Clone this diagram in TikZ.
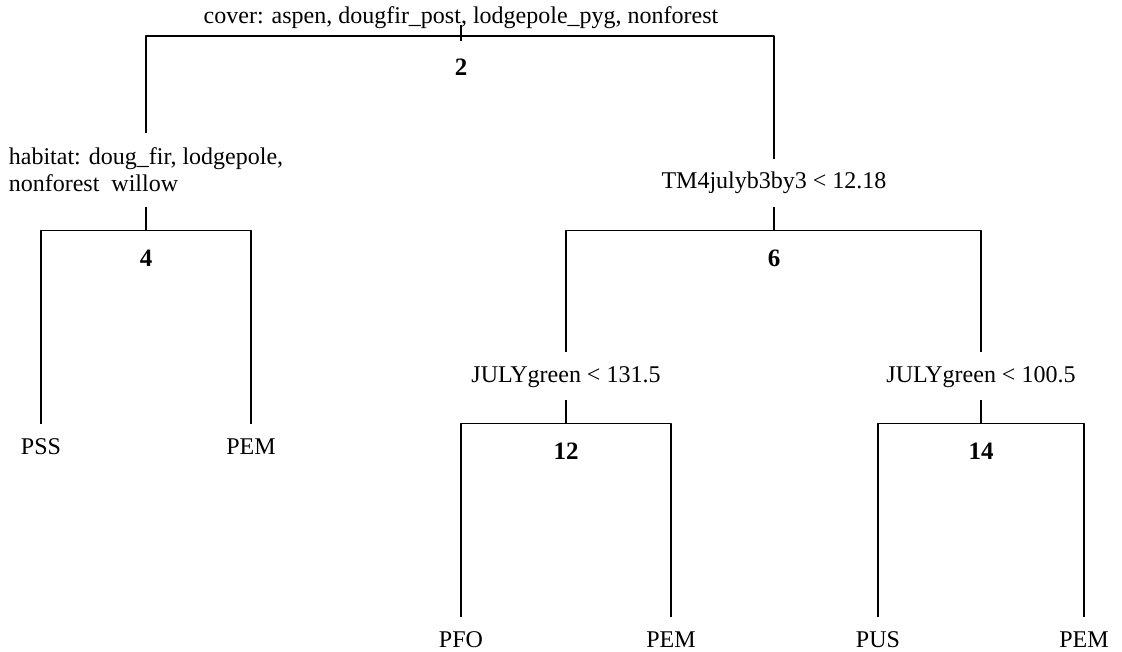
\documentclass[tikz,border=0pt]{standalone}
\usepackage{fontspec}
\setmainfont{Liberation Serif}
\usetikzlibrary{positioning}
\tikzset{
  splitlab/.style={inner xsep=3pt, inner ysep=13pt, text height=17pt, text depth=5pt},
  leaflab/.style={splitlab},
  nodenum/.style={font=\fontsize{25}{28}\selectfont\bfseries},
  branch/.style={line width=1.2pt, black},
  rootstem/.style={line width=2.4pt, black},
}
\begin{document}
\begin{tikzpicture}[x=1pt, y=-1pt, line join=round, font=\fontsize{24}{27}\selectfont]
	\useasboundingbox (0,0) rectangle (1122,652);
	% labels of the splits
	\node (cover) at (461,18) {cover: aspen, dougfir\_post, lodgepole\_pyg, nonforest};
	\node[align=left, inner xsep=3pt, inner ysep=15pt] (hab) at (146,170) {habitat: doug\_fir, lodgepole,\\nonforest\ \ willow};
	\node[splitlab] (tm) at (774,183) {TM4julyb3by3 < 12.18};
	\node[splitlab] (july1) at (566,376) {JULYgreen < 131.5};
	\node[splitlab] (july2) at (981,376) {JULYgreen < 100.5};
	% leaves
	\node[leaflab] (pss) at (41,448) {PSS};
	\node[leaflab] (pem1) at (251,448) {PEM};
	\node[leaflab] (pfo) at (461,641) {PFO};
	\node[leaflab] (pem2) at (671,641) {PEM};
	\node[leaflab] (pus) at (878,641) {PUS};
	\node[leaflab] (pem3) at (1084,641) {PEM};
	% root
	\coordinate (rootbar) at (461,36);
	\draw[branch] (hab.north) -- (hab.north |- rootbar) -- (tm.north |- rootbar) -- (tm.north);
	\draw[rootstem] ([yshift=11pt]rootbar) -- ([yshift=-5pt]rootbar);
	\node[nodenum] (num2) at ([yshift=-31pt]rootbar) {2};
	% the other splits
	\foreach \p/\l/\r/\n in {hab/pss/pem1/4, tm/july1/july2/6, july1/pfo/pem2/12, july2/pus/pem3/14} {
		\coordinate (bar\n) at ([yshift=-23.5pt]\p.south);
		\draw[branch] (\p.south) -- (bar\n);
		\draw[branch] (\l.north) -- (\l.north |- bar\n) -- (\r.north |- bar\n) -- (\r.north);
		\node[nodenum] (num\n) at ([yshift=-28pt]bar\n) {\n};
	}
\end{tikzpicture}
\end{document}
